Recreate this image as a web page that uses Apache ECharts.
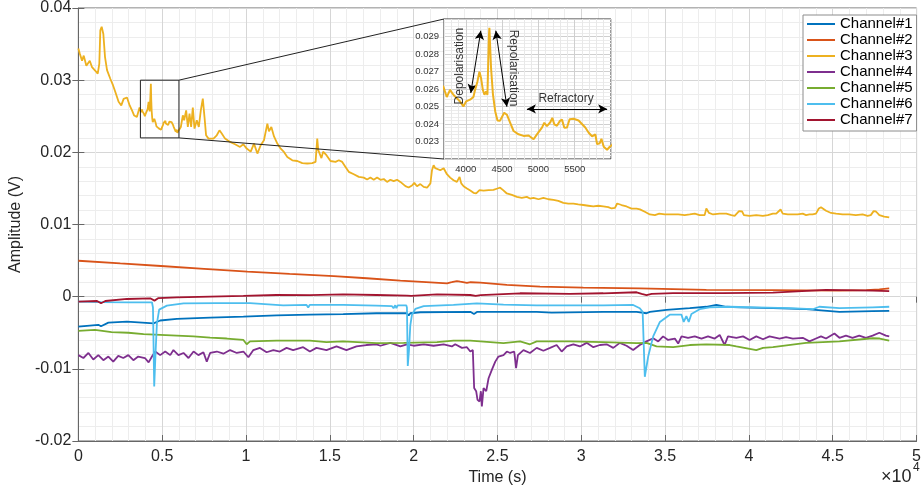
<!DOCTYPE html>
<html>
<head>
<meta charset="utf-8">
<script src="https://cdn.jsdelivr.net/npm/echarts@6/dist/echarts.min.js"></script>
<style>
  html, body { margin: 0; padding: 0; background: #fff; }
  #chart { width: 924px; height: 491px; }
</style>
</head>
<body>
<div id="chart"></div>
<script>
// time in seconds, amplitude in volts
const channelNames = ["Channel#1", "Channel#2", "Channel#3", "Channel#4", "Channel#5", "Channel#6", "Channel#7"];
const channelColors = ["#0072BD", "#D95319", "#EDB120", "#7E2F8E", "#77AC30", "#4DBEEE", "#A2142F"];

const ch1 = [[0,-0.00415],[1190,-0.0039],[1350,-0.0041],[1790,-0.0036],[2900,-0.00346],[4484,-0.0037],[4880,-0.0033],[5875,-0.00308],[7860,-0.0029],[9845,-0.00277],[11827,-0.0026],[13810,-0.0025],[15795,-0.00243],[17780,-0.0023],[19600,-0.0023],[19705,-0.0026],[19800,-0.0023],[20400,-0.00216],[23380,-0.0021],[23600,-0.0024],[23800,-0.0021],[27340,-0.0021],[28230,-0.0022],[31310,-0.0021],[33300,-0.0021],[33890,-0.0023],[34090,-0.0021],[35080,-0.00184],[36470,-0.0016],[37460,-0.0014],[38060,-0.00115],[38650,-0.0014],[39450,-0.00147],[41430,-0.0016],[43410,-0.00174],[45400,-0.0021],[47380,-0.002],[48370,-0.00198]];

const ch2 = [[0,0.00498],[2500,0.0046],[4923,0.00425],[7500,0.00385],[10083,0.00346],[12600,0.00316],[15238,0.00286],[17200,0.00255],[19208,0.00221],[21000,0.00198],[21990,0.00185],[22270,0.0020],[22580,0.00217],[22780,0.00207],[23180,0.0019],[23400,0.0020],[23970,0.00194],[25560,0.00162],[27540,0.00138],[30120,0.00124],[33490,0.00116],[37460,0.00093],[41430,0.0009],[45400,0.00083],[47000,0.0009],[47780,0.00102],[48370,0.00116]];

const ch3 = [[0,0.0344],[83,0.0337],[220,0.0327],[320,0.0334],[476,0.0320],[680,0.0327],[815,0.0318],[1012,0.0313],[1155,0.0309],[1250,0.0323],[1310,0.0369],[1390,0.0374],[1490,0.0364],[1590,0.0332],[1710,0.0314],[1905,0.0302],[2065,0.0293],[2200,0.0284],[2400,0.0270],[2560,0.0265],[2700,0.0274],[2900,0.0276],[3060,0.0265],[3200,0.0258],[3330,0.0251],[3490,0.0249],[3650,0.0262],
  [3691,0.02614],[3738,0.02554],[3783,0.02595],[3829,0.02567],[3876,0.02548],[3921,0.02529],[3967,0.0250],[4004,0.02529],[4059,0.02539],[4105,0.02554],[4128,0.02595],[4160,0.02642],[4188,0.02699],[4211,0.02661],[4235,0.02595],[4257,0.02567],[4280,0.02586],[4298,0.02567],[4318,0.0290],[4325,0.0295],[4338,0.0294],[4348,0.0272],[4374,0.0257],[4405,0.02473],[4437,0.0242],[4470,0.02418],[4496,0.0242],[4529,0.02464],[4566,0.02453],[4612,0.02407],[4658,0.0236],[4727,0.02341],[4796,0.02332],[4865,0.02334],[4934,0.02313],[4980,0.02341],[5049,0.02379],[5081,0.02407],[5118,0.02388],[5164,0.0241],[5192,0.02435],[5219,0.02398],[5256,0.0239],[5293,0.02416],[5325,0.02425],[5357,0.02378],[5394,0.0238],[5430,0.02427],[5485,0.0243],[5554,0.0242],[5600,0.0240],[5646,0.0238],[5693,0.0235],[5739,0.0233],[5785,0.0234],[5808,0.02285],[5845,0.0229],[5868,0.02315],[5900,0.0227],[5946,0.02253],[5983,0.0227],[6015,0.0228],
  [6113,0.02351],[6232,0.02513],[6310,0.02444],[6430,0.02582],[6530,0.02351],[6630,0.02536],[6726,0.02351],[6827,0.02619],[6928,0.02329],[7065,0.02444],[7185,0.02351],[7304,0.02582],[7423,0.02744],[7524,0.02489],[7619,0.02236],[7762,0.0219],[8060,0.0219],[8256,0.02236],[8417,0.02305],[8554,0.0226],[8750,0.0219],[9048,0.02144],[9345,0.02112],[9643,0.02075],[9840,0.02112],[10042,0.02052],[10280,0.0201],[10476,0.02121],[10679,0.01983],[10875,0.02098],[11071,0.02167],[11274,0.02398],[11369,0.0229],[11512,0.02351],[11670,0.0222],[11869,0.02121],[12071,0.0205],[12262,0.02005],[12464,0.01936],[12762,0.0189],[13060,0.0188],[13357,0.0185],[13653,0.01845],[13950,0.0185],[14150,0.01867],[14250,0.0219],[14310,0.0203],[14405,0.02005],[14500,0.0192],[14600,0.0201],[14680,0.0201],[14800,0.0196],[15040,0.0188],[15340,0.01867],[15540,0.0189],[15740,0.01867],[15935,0.01798],[16130,0.0173],[16430,0.01697],[16730,0.0166],[17025,0.0165],[17225,0.01624],[17420,0.0165],[17620,0.0162],[17820,0.0165],[18020,0.0162],[18220,0.0163],[18415,0.0159],[18610,0.0162],[18810,0.0160],[19010,0.0162],[19210,0.0159],[19510,0.01531],[19700,0.01513],[19900,0.0154],[20040,0.01577],[20200,0.0153],[20400,0.0156],[20600,0.01521],[20800,0.0151],[21000,0.0157],[21095,0.01752],[21190,0.01821],[21290,0.0178],[21390,0.0180],[21590,0.01752],[21790,0.0178],[21985,0.01697],[22180,0.0165],[22380,0.01614],[22580,0.0159],[22740,0.0166],[22840,0.0157],[22980,0.0153],[23180,0.01499],[23380,0.0147],[23570,0.01439],[23730,0.0143],[23930,0.01476],[24170,0.0147],[24470,0.01476],[24760,0.0148],[25000,0.01499],[25160,0.0151],[25320,0.0148],[25560,0.0143],[25860,0.0141],[26160,0.01383],[26450,0.0137],[26750,0.01383],[26940,0.0136],[27150,0.0137],[27450,0.0135],[27740,0.0137],[28040,0.0135],[28340,0.0134],[28630,0.01328],[28930,0.0130],[29230,0.0129],[29530,0.0129],[29820,0.0128],[30120,0.0127],[30420,0.0126],[30720,0.0125],[31010,0.0126],[31310,0.0125],[31610,0.0124],[31810,0.01222],[32010,0.0123],[32140,0.01291],[32400,0.0127],[32700,0.0125],[33000,0.0122],[33300,0.0122],[33500,0.0121],[33790,0.01176],[34090,0.01139],[34390,0.0113],[34650,0.0115],[34980,0.0114],[35380,0.0114],[35780,0.01139],[36170,0.0113],[36470,0.01139],[36770,0.0115],[37060,0.0113],[37360,0.0113],[37460,0.01222],[37620,0.0116],[37860,0.01139],[38250,0.0115],[38650,0.0115],[38950,0.0113],[39150,0.0112],[39410,0.01185],[39600,0.0118],[39700,0.0113],[40040,0.0112],[40440,0.0113],[40830,0.0112],[41130,0.0113],[41430,0.0115],[41630,0.0115],[41890,0.01208],[42020,0.0115],[42320,0.01139],[42620,0.0114],[42910,0.01139],[43210,0.0115],[43410,0.0113],[43610,0.01139],[43800,0.01139],[44000,0.0115],[44170,0.01222],[44300,0.0124],[44600,0.0119],[44900,0.0116],[45200,0.0115],[45590,0.01139],[45990,0.01139],[46380,0.0113],[46780,0.01139],[47080,0.0112],[47270,0.0113],[47440,0.01185],[47580,0.0118],[47780,0.0113],[48070,0.0111],[48370,0.01098]];

const ch4 = [[0,-0.0081],[300,-0.0085],[600,-0.0078],[890,-0.0087],[1190,-0.0081],[1490,-0.0088],[1790,-0.0083],[2080,-0.0090],[2380,-0.0082],[2680,-0.0085],[2980,-0.0081],[3280,-0.0088],[3570,-0.0083],[3970,-0.0085],[4190,-0.0091],[4390,-0.0083],[4585,-0.0076],[4880,-0.0081],[5180,-0.0076],[5480,-0.0081],[5670,-0.0074],[5970,-0.0081],[6270,-0.0078],[6570,-0.0085],[6870,-0.0076],[7160,-0.0081],[7460,-0.0077],[7660,-0.0090],[7860,-0.0078],[8260,-0.0076],[8650,-0.0079],[9050,-0.0074],[9450,-0.0078],[9845,-0.0076],[10140,-0.0084],[10440,-0.0074],[10830,-0.0071],[11230,-0.0077],[11630,-0.0074],[12020,-0.0076],[12420,-0.0071],[12810,-0.0074],[13410,-0.0070],[13810,-0.0076],[14200,-0.0071],[14800,-0.0074],[15400,-0.0069],[15990,-0.0074],[16590,-0.0069],[17180,-0.0067],[17780,-0.0066],[18020,-0.0068],[18610,-0.0064],[19210,-0.0069],[19600,-0.0066],[20000,-0.0068],[20600,-0.0066],[21190,-0.0068],[21790,-0.0066],[22280,-0.0069],[22480,-0.0066],[22880,-0.0071],[23180,-0.0070],[23380,-0.0076],[23530,-0.0074],[23610,-0.01267],[23730,-0.0131],[23810,-0.0143],[23930,-0.01452],[24010,-0.0131],[24070,-0.0152],[24170,-0.01267],[24330,-0.0131],[24470,-0.0113],[24670,-0.0101],[24870,-0.0090],[25060,-0.0083],[25360,-0.0081],[25560,-0.0076],[25760,-0.0078],[26000,-0.0076],[26110,-0.0099],[26220,-0.0081],[26550,-0.0074],[26940,-0.0078],[27340,-0.0071],[27740,-0.0075],[28140,-0.0071],[28530,-0.0067],[28830,-0.0076],[29130,-0.0069],[29530,-0.0066],[29920,-0.0069],[30320,-0.0064],[30720,-0.0070],[31110,-0.0067],[31510,-0.0066],[31910,-0.0071],[32300,-0.0064],[32700,-0.0068],[33095,-0.0074],[33490,-0.0067],[33890,-0.0062],[34290,-0.00576],[34590,-0.0062],[34880,-0.0055],[35180,-0.006],[35580,-0.0058],[35780,-0.0065],[35980,-0.0055],[36370,-0.0057],[36770,-0.0055],[37170,-0.0058],[37560,-0.0055],[37960,-0.0058],[38256,-0.0053],[38550,-0.0067],[38750,-0.0055],[39250,-0.0057],[39650,-0.0055],[40040,-0.006],[40440,-0.0055],[40840,-0.0059],[41230,-0.0055],[41830,-0.0058],[42220,-0.0056],[42620,-0.0058],[43210,-0.0057],[43610,-0.0062],[44000,-0.0058],[44300,-0.0055],[44600,-0.0058],[45100,-0.0051],[45400,-0.0057],[45790,-0.0054],[46180,-0.0057],[46580,-0.0054],[46980,-0.0057],[47380,-0.0054],[47780,-0.0050],[48170,-0.0054],[48370,-0.0055]];

const ch5 = [[0,-0.00474],[990,-0.0046],[1980,-0.0049],[2980,-0.0050],[3890,-0.0052],[4880,-0.0053],[5875,-0.0054],[6870,-0.0055],[7860,-0.00567],[8850,-0.0058],[9845,-0.006],[10040,-0.0066],[10240,-0.0062],[11827,-0.0061],[13810,-0.0061],[14800,-0.0063],[15795,-0.0062],[17780,-0.00645],[19405,-0.0064],[21393,-0.0063],[22380,-0.0061],[23380,-0.0061],[25360,-0.00645],[26350,-0.0062],[26940,-0.0066],[27340,-0.0062],[29330,-0.0062],[31310,-0.0063],[33300,-0.00645],[33890,-0.0064],[34490,-0.0069],[35480,-0.0070],[36470,-0.0067],[37460,-0.0066],[38850,-0.0067],[39250,-0.0069],[40440,-0.0074],[40840,-0.0071],[41430,-0.0070],[43410,-0.0064],[45400,-0.0062],[47380,-0.00576],[47800,-0.0058],[48370,-0.0061]];

const ch6 = [[0,-0.0007],[1350,-0.00075],[3000,-0.0008],[4390,-0.00078],[4450,-0.0015],[4524,-0.01245],[4600,-0.008],[4685,-0.0037],[4820,-0.0018],[5280,-0.00124],[6274,-0.00092],[8260,-0.0009],[10240,-0.0009],[12220,-0.0012],[13613,-0.00115],[13710,-0.0015],[13800,-0.00115],[15795,-0.00115],[17780,-0.00124],[18700,-0.0013],[18800,-0.0016],[18900,-0.0012],[18970,-0.0016],[19050,-0.0012],[19560,-0.0012],[19600,-0.0015],[19650,-0.0096],[19720,-0.0075],[19800,-0.004],[19900,-0.0025],[20100,-0.0017],[20600,-0.0013],[22380,-0.00115],[23770,-0.00092],[25360,-0.0011],[27340,-0.0012],[29330,-0.0012],[31310,-0.0012],[33095,-0.00115],[33490,-0.0016],[33660,-0.0021],[33790,-0.0111],[33990,-0.0083],[34290,-0.0055],[34690,-0.0035],[35280,-0.0025],[35980,-0.0025],[36110,-0.0035],[36270,-0.0027],[36410,-0.0035],[36570,-0.0024],[37060,-0.00174],[37660,-0.00147],[38850,-0.0014],[40440,-0.00147],[42420,-0.0016],[43810,-0.00174],[44200,-0.0014],[45400,-0.0016],[47380,-0.00147],[48370,-0.0014]];

const ch7 = [[0,-0.00069],[1113,-0.0006],[1350,-0.00092],[1610,-0.0006],[2900,-0.00032],[4286,-0.00023],[4540,-0.00055],[4780,-0.0002],[5875,-0.0001],[7860,0],[9845,0.0001],[11827,0.00023],[13810,0.0002],[15795,0.00033],[17780,0.00023],[19600,0.00014],[19705,-0.0001],[19850,0.0001],[21393,0.00033],[23380,0.00023],[23700,0.0001],[24000,0.0002],[26350,0.00047],[29330,0.0004],[31310,0.00047],[33300,0.00061],[33600,0.0004],[33890,0.00023],[34200,0.0004],[35480,0.0005],[38450,0.00048],[41430,0.00055],[44610,0.00093],[47380,0.00083],[48370,0.00078]];

const channels = [ch1, ch2, ch3, ch4, ch5, ch6, ch7];

// inset (zoom) window and annotations
const zoomX = [3700, 6000];
const zoomY = [0.022, 0.030];
const depolArrow = [[4069, 0.02577], [4207, 0.02933]];
const repolArrow = [[4414, 0.02933], [4566, 0.02499]];
const refracArrow = [[4842, 0.02486], [5947, 0.02486]];
const insetTexts = [
  { name: "Depolarisation", value: [3921, 0.02731], rotate: 90 },
  { name: "Repolarisation", value: [4653, 0.0272], rotate: -90 },
  { name: "Refractory", value: [5381, 0.02543], rotate: 0 }
];

const font = "Liberation Sans, Arial, Helvetica, sans-serif";
const majorGrid = "#d6d6d6";
const minorGrid = "#ededed";

const chart = echarts.init(document.getElementById("chart"));

let series = channels.map((d, i) => ({
  name: channelNames[i],
  type: "line",
  xAxisIndex: 0,
  yAxisIndex: 0,
  data: d,
  symbol: "none",
  animation: false,
  lineStyle: { color: channelColors[i], width: 1.8 },
  itemStyle: { color: channelColors[i] },
  z: 2 + i * 0.01
}));

// zoomed copy of channel 3
series.push({
  type: "line",
  xAxisIndex: 2,
  yAxisIndex: 2,
  data: ch3.filter(p => p[0] > 3500 && p[0] < 6200),
  symbol: "none",
  animation: false,
  clip: true,
  z: 5,
  lineStyle: { color: channelColors[2], width: 2 },
  markLine: {
    silent: true,
    symbol: ["arrow", "arrow"],
    symbolSize: [7, 9],
    label: { show: false },
    lineStyle: { color: "#000", width: 1, type: "solid" },
    data: [depolArrow, repolArrow, refracArrow].map(a => [{ coord: a[0] }, { coord: a[1] }])
  }
});
series.push({
  type: "scatter",
  xAxisIndex: 2,
  yAxisIndex: 2,
  symbolSize: 0,
  z: 6,
  silent: true,
  animation: false,
  data: insetTexts.map(t => ({
    name: t.name,
    value: t.value,
    label: { rotate: t.rotate }
  })),
  label: {
    show: true,
    position: "inside",
    formatter: p => p.name,
    color: "#000",
    fontSize: 12,
    fontFamily: font
  }
});

const insetColors = ["#e8e8e8", "#e8e8e8", "#e8e8e8", "#cfcfcf", "#e8e8e8"];

chart.setOption({
  backgroundColor: "#fff",
  animation: false,
  textStyle: { fontFamily: font },
  grid: [
    { left: 77, right: 7, top: 8, bottom: 50, show: true, borderColor: "#666", borderWidth: 1 },
    { left: 444, top: 19, width: 167, height: 140, show: true, z: 3,
      backgroundColor: "#fff", borderColor: "#333", borderWidth: 1 }
  ],
  legend: {
    data: channelNames,
    orient: "vertical",
    left: 803,
    top: 15,
    padding: [1, 4, 3, 4],
    itemGap: 0,
    itemWidth: 28,
    itemHeight: 2,
    icon: "rect",
    backgroundColor: "#fff",
    borderColor: "#8c8c8c",
    borderWidth: 1,
    z: 10,
    textStyle: { fontSize: 15, lineHeight: 16, color: "#000", fontFamily: font }
  },
  xAxis: [
    {
      gridIndex: 0, type: "value", min: 0, max: 50000, interval: 5000,
      name: "Time (s)", nameLocation: "middle", nameGap: 20,
      nameTextStyle: { fontSize: 16, color: "#262626", fontFamily: font },
      axisLine: { show: true, onZero: false, lineStyle: { color: "#666" } },
      axisTick: { inside: true, length: 6, lineStyle: { color: "#666" } },
      axisLabel: { fontSize: 16, color: "#262626", margin: 8, formatter: v => String(v / 10000) },
      splitLine: { show: true, lineStyle: { color: majorGrid } },
      minorTick: { show: false, splitNumber: 5 },
      minorSplitLine: { show: true, lineStyle: { color: minorGrid } }
    },
    {
      gridIndex: 0, type: "value", position: "top", min: 0, max: 50000, interval: 5000,
      axisLine: { show: false },
      axisTick: { inside: true, length: 6, lineStyle: { color: "#666" } },
      axisLabel: { show: false },
      splitLine: { show: false }
    },
    {
      gridIndex: 1, type: "value", min: zoomX[0], max: zoomX[1], interval: 100, z: 4,
      axisLine: { show: false },
      axisTick: { show: false },
      axisLabel: {
        fontSize: 9.5, color: "#333", margin: 5, showMaxLabel: false,
        formatter: v => (v % 500 === 0 && v < zoomX[1] ? String(v) : "")
      },
      splitLine: { show: true, lineStyle: { color: insetColors, width: 1 } }
    }
  ],
  yAxis: [
    {
      gridIndex: 0, type: "value", min: -0.02, max: 0.04, interval: 0.01,
      name: "Amplitude (V)", nameLocation: "middle", nameGap: 48,
      nameTextStyle: { fontSize: 16, color: "#262626", fontFamily: font },
      axisLine: { show: true, onZero: false, lineStyle: { color: "#666" } },
      axisTick: { inside: true, length: 6, lineStyle: { color: "#666" } },
      axisLabel: { fontSize: 16, color: "#262626", margin: 7 },
      splitLine: { show: true, lineStyle: { color: majorGrid } },
      minorTick: { show: false, splitNumber: 5 },
      minorSplitLine: { show: true, lineStyle: { color: minorGrid } }
    },
    {
      gridIndex: 0, type: "value", position: "right", min: -0.02, max: 0.04, interval: 0.01,
      axisLine: { show: false },
      axisTick: { inside: true, length: 6, lineStyle: { color: "#666" } },
      axisLabel: { show: false },
      splitLine: { show: false }
    },
    {
      gridIndex: 1, type: "value", min: zoomY[0], max: zoomY[1], interval: 0.001, z: 4,
      axisLine: { show: false },
      axisTick: { show: false },
      axisLabel: { fontSize: 9.5, color: "#333", margin: 5, showMinLabel: false, showMaxLabel: false },
      splitLine: { show: true, lineStyle: { color: "#cfcfcf" } },
      minorSplitLine: { show: true, lineStyle: { color: "#ececec" } },
      minorTick: { show: false, splitNumber: 5 }
    }
  ],
  series: series
});

// zoom box on the main axes and the two lines joining it to the inset
const boxTL = chart.convertToPixel({ xAxisIndex: 0, yAxisIndex: 0 }, [zoomX[0], zoomY[1]]);
const boxBR = chart.convertToPixel({ xAxisIndex: 0, yAxisIndex: 0 }, [zoomX[1], zoomY[0]]);
const insTL = chart.convertToPixel({ xAxisIndex: 2, yAxisIndex: 2 }, [zoomX[0], zoomY[1]]);
const insBL = chart.convertToPixel({ xAxisIndex: 2, yAxisIndex: 2 }, [zoomX[0], zoomY[0]]);

chart.setOption({
  graphic: [
    { type: "rect", z: 8, silent: true,
      shape: { x: boxTL[0], y: boxTL[1], width: boxBR[0] - boxTL[0], height: boxBR[1] - boxTL[1] },
      style: { fill: null, stroke: "#222", lineWidth: 1 } },
    { type: "line", z: 8, silent: true,
      shape: { x1: boxBR[0], y1: boxTL[1], x2: insTL[0], y2: insTL[1] },
      style: { stroke: "#222", lineWidth: 1 } },
    { type: "line", z: 8, silent: true,
      shape: { x1: boxBR[0], y1: boxBR[1], x2: insBL[0], y2: insBL[1] },
      style: { stroke: "#222", lineWidth: 1 } },
    { type: "text", z: 8, left: 881, top: 468,
      style: { text: "×10", fontSize: 18, fill: "#262626", fontFamily: font } },
    { type: "text", z: 8, left: 913, top: 462,
      style: { text: "4", fontSize: 12, fill: "#262626", fontFamily: font } }
  ]
});
</script>
</body>
</html>
